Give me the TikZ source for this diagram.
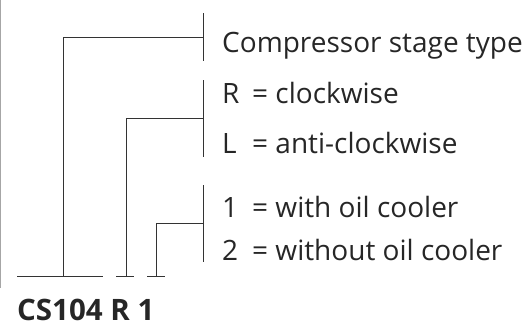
\documentclass[tikz,border=0pt]{standalone}
\usepackage{fontspec}
\setmainfont{Open Sans}
\begin{document}
\begin{tikzpicture}[x=1pt,y=-1pt,
  ln/.style={draw=black!80,line width=1pt},
  lbl/.style={anchor=base west,inner sep=0pt,text=black!85,font=\fontsize{28}{32}\selectfont}]
\useasboundingbox (0,0) rectangle (523,327);
\draw[black!35,line width=1pt] (0.5,0) -- (0.5,288);
% bars
\coordinate (b1t) at (203,13); \coordinate (b1b) at (203,61); \coordinate (b1m) at (203,37);
\coordinate (b2t) at (203,80); \coordinate (b2b) at (203,157); \coordinate (b2m) at (203,118);
\coordinate (b3t) at (203,185); \coordinate (b3b) at (203,262); \coordinate (b3m) at (203,223);
\draw[ln] (b1t) -- (b1b);
\draw[ln] (b2t) -- (b2b);
\draw[ln] (b3t) -- (b3b);
% base lines
\coordinate (s1l) at (17,276); \coordinate (s1r) at (103,276); \coordinate (s1m) at (63,276);
\coordinate (s2l) at (116,276); \coordinate (s2r) at (134,276); \coordinate (s2m) at (126,276);
\coordinate (s3l) at (147,276); \coordinate (s3r) at (165,276); \coordinate (s3m) at (156,276);
\draw[ln] (s1l) -- (s1r);
\draw[ln] (s2l) -- (s2r);
\draw[ln] (s3l) -- (s3r);
\draw[ln] (s1m) |- (b1m);
\draw[ln] (s2m) |- (b2m);
\draw[ln] (s3m) |- (b3m);
% labels
\node[lbl] (t1) at (222,52) {Compressor stage type};
\node[lbl] (tR) at (222,103) {R};
\node[lbl] (eR) at (252,103) {= clockwise};
\node[lbl] (tL) at (222,153) {L};
\node[lbl] (eL) at (252,153) {= anti-clockwise};
\node[lbl] (t1o) at (222,217) {1};
\node[lbl] (e1o) at (252,217) {= with oil cooler};
\node[lbl] (t2o) at (222,260) {2};
\node[lbl] (e2o) at (252,260) {= without oil cooler};
\node[lbl,font=\fontsize{29.5}{33}\selectfont\bfseries] (code) at (17,320) {CS104 R 1};
\end{tikzpicture}
\end{document}
